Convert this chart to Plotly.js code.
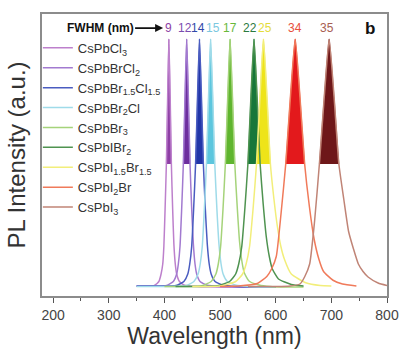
<!DOCTYPE html>
<html>
<head>
<meta charset="utf-8">
<script src="https://cdn.plot.ly/plotly-3.0.1.min.js"></script>
<style>html,body{margin:0;padding:0;background:#fff;}#chart{width:401px;height:355px;}</style>
</head>
<body>
<div id="chart"></div>
<script>
// ---- data ----
const names = ['CsPbCl<sub>3</sub>','CsPbBrCl<sub>2</sub>','CsPbBr<sub>1.5</sub>Cl<sub>1.5</sub>','CsPbBr<sub>2</sub>Cl','CsPbBr<sub>3</sub>','CsPbIBr<sub>2</sub>','CsPbI<sub>1.5</sub>Br<sub>1.5</sub>','CsPbI<sub>2</sub>Br','CsPbI<sub>3</sub>'];
const fwhmLabels = ['9','12','14','15','17','22','25','34','35'];
const peakNm = [408, 440, 463, 483, 518, 561, 578, 635, 696];

const x1 = [350, 370, 382, 390, 394, 397, 399, 401.2, 403.5, 405.8, 408, 410.3, 412.5, 414.8, 417, 419.5, 422, 427, 436, 460, 520, 600];
const y1 = [0.012, 0.012, 0.014, 0.03, 0.06, 0.1, 0.17, 0.32, 0.5, 0.77, 1, 0.77, 0.5, 0.32, 0.18, 0.1, 0.06, 0.03, 0.015, 0.01, 0.008, 0.008];
const x2 = [350, 380, 404, 416, 422, 425, 428, 431, 434, 437, 440, 443, 446, 449, 452, 455, 458, 464, 477, 500, 550, 600];
const y2 = [0.012, 0.012, 0.014, 0.03, 0.06, 0.1, 0.17, 0.32, 0.5, 0.77, 1, 0.77, 0.5, 0.32, 0.18, 0.1, 0.06, 0.03, 0.015, 0.01, 0.008, 0.008];
const x3 = [350, 390, 421, 435, 442, 445.5, 449, 452.5, 456, 459.5, 463, 466.5, 470, 473.5, 477, 480.5, 484, 491, 506, 530, 570, 600];
const y3 = [0.012, 0.012, 0.014, 0.03, 0.06, 0.1, 0.17, 0.32, 0.5, 0.77, 1, 0.77, 0.5, 0.32, 0.18, 0.1, 0.06, 0.03, 0.015, 0.01, 0.008, 0.008];
const x4 = [350, 400, 438, 453, 460.5, 464.3, 468, 471.8, 475.5, 479.3, 483, 486.8, 490.5, 494.3, 498, 501.8, 505.5, 513, 529, 550, 580, 600];
const y4 = [0.01, 0.01, 0.013, 0.03, 0.06, 0.1, 0.17, 0.32, 0.5, 0.77, 1, 0.77, 0.5, 0.32, 0.18, 0.1, 0.06, 0.03, 0.015, 0.01, 0.008, 0.008];
const x5 = [400, 440, 467, 484, 492.5, 496.8, 501, 505.3, 509.5, 513.8, 518, 522.3, 526.5, 530.8, 535, 539.3, 543.5, 552, 570, 590, 620, 650];
const y5 = [0.01, 0.01, 0.013, 0.03, 0.06, 0.1, 0.17, 0.32, 0.5, 0.77, 1, 0.77, 0.5, 0.33, 0.19, 0.11, 0.065, 0.032, 0.016, 0.01, 0.008, 0.008];
const x6 = [420, 460, 495, 517, 528, 533.5, 539, 544.5, 550, 555.5, 561, 566.5, 572, 577.5, 583, 588.5, 594, 605, 628, 650];
const y6 = [0.01, 0.01, 0.013, 0.03, 0.06, 0.1, 0.17, 0.32, 0.5, 0.77, 1, 0.77, 0.5, 0.34, 0.21, 0.13, 0.08, 0.04, 0.018, 0.012];
const x7 = [450, 480, 503, 528, 540.5, 546.8, 553, 559.3, 565.5, 571.8, 578, 584.3, 590.5, 596.8, 603, 609.3, 615.5, 628, 654, 680, 700];
const y7 = [0.01, 0.01, 0.013, 0.03, 0.06, 0.1, 0.17, 0.32, 0.5, 0.77, 1, 0.77, 0.5, 0.36, 0.25, 0.17, 0.12, 0.06, 0.025, 0.014, 0.012];
const x8 = [500, 533, 567, 584, 592.5, 601, 609.5, 618, 626.5, 635, 643.5, 652, 660.5, 669, 677.5, 686, 703, 720, 745];
const y8 = [0.01, 0.012, 0.022, 0.05, 0.08, 0.13, 0.3, 0.5, 0.77, 1, 0.77, 0.5, 0.33, 0.2, 0.12, 0.07, 0.035, 0.02, 0.012];
const x9 = [550, 600, 626, 643.5, 652.3, 661, 669.8, 678.5, 687.3, 696, 704.8, 713.5, 722.3, 731, 739.8, 748.5, 757, 766, 784, 800];
const y9 = [0.01, 0.01, 0.012, 0.02, 0.05, 0.1, 0.27, 0.5, 0.77, 1, 0.77, 0.5, 0.36, 0.23, 0.16, 0.1, 0.07, 0.048, 0.024, 0.014];

const xs = [x1, x2, x3, x4, x5, x6, x7, x8, x9];
const ys = [y1, y2, y3, y4, y5, y6, y7, y8, y9];

// ---- styles ----
const fillColors = ['#8e3fa5','#6d2f9e','#2236a8','#5cc6de','#5fb52e','#17773a','#eee419','#e3191c','#6e1719'];
const lineColors = ['#bd80cc','#a27ad0','#4a5cc0','#9fdbe9','#a5d37a','#4f9350','#f2ee7a','#f07a5a','#c08476'];
const labelColors = ['#8e3fa5','#7a4cb0','#3048a8','#7cc8e0','#68b83a','#2a7a3e','#e4dc3c','#e8503c','#a85e52'];
const labelShiftPx = [0, -2, -1, 2, 0, -4, 2, 0, -2];
const FONT = 'Liberation Sans, Arial, sans-serif';

const traces = [];
// filled region above half maximum
for (let i = 0; i < xs.length; i++) {
  const a = ys[i].indexOf(0.5), b = ys[i].lastIndexOf(0.5);
  traces.push({
    x: xs[i].slice(a, b + 1), y: ys[i].slice(a, b + 1),
    type: 'scatter', mode: 'lines', fill: 'toself', fillcolor: fillColors[i],
    line: {color: fillColors[i], width: 0.5, shape: 'spline', smoothing: 0.5},
    showlegend: false, hoverinfo: 'skip'
  });
}
for (let i = 0; i < xs.length; i++) {
  traces.push({
    x: xs[i], y: ys[i], type: 'scatter', mode: 'lines', name: names[i],
    line: {color: lineColors[i], width: 1.5, shape: 'spline', smoothing: 0.5}
  });
}

const annotations = [];
for (let i = 0; i < fwhmLabels.length; i++) {
  annotations.push({
    x: peakNm[i], xref: 'x', y: 0.95, yref: 'paper', text: fwhmLabels[i],
    xshift: labelShiftPx[i],
    showarrow: false, xanchor: 'center', yanchor: 'middle',
    font: {family: FONT, size: 12, color: labelColors[i]}
  });
}
annotations.push({
  x: 0.351, xref: 'paper', y: 0.95, yref: 'paper', ax: -63, ay: 0,
  text: '<b>FWHM (nm)</b>', showarrow: true, arrowhead: 2, arrowsize: 1,
  arrowwidth: 1.6, arrowcolor: '#111', font: {family: FONT, size: 12, color: '#111'}
});
annotations.push({
  x: 0.951, xref: 'paper', y: 0.95, yref: 'paper', text: '<b>b</b>', showarrow: false,
  xanchor: 'center', yanchor: 'middle', font: {family: FONT, size: 17, color: '#111'}
});

const layout = {
  width: 401, height: 355,
  margin: {l: 42, r: 14, t: 14, b: 59},
  paper_bgcolor: '#fff', plot_bgcolor: '#fff',
  font: {family: FONT, color: '#333'},
  xaxis: {
    range: [180, 800], tickvals: [200, 300, 400, 500, 600, 700, 800],
    ticks: 'outside', ticklen: 5, tickwidth: 1, tickcolor: '#555',
    minor: {tickvals: [250, 350, 450, 550, 650, 750], ticks: 'outside', ticklen: 3, tickcolor: '#555'},
    linecolor: '#8c8c8c', linewidth: 2, mirror: true, showgrid: false, zeroline: false,
    tickfont: {family: FONT, size: 14, color: '#444'},
    title: {text: 'Wavelength (nm)', font: {family: FONT, size: 23, color: '#333'}, standoff: 6}
  },
  yaxis: {
    range: [-0.028, 1.1], showticklabels: false, ticks: '',
    linecolor: '#8c8c8c', linewidth: 2, mirror: true, showgrid: false, zeroline: false,
    title: {text: 'PL Intensity (a.u.)', font: {family: FONT, size: 24, color: '#333'}, standoff: 8}
  },
  legend: {
    x: -0.012, xanchor: 'left', y: 0.933, yanchor: 'top',
    bgcolor: 'rgba(0,0,0,0)', font: {family: FONT, size: 13, color: '#333'},
    tracegroupgap: 0
  },
  annotations: annotations,
  showlegend: true
};

Plotly.newPlot('chart', traces, layout, {displayModeBar: false, staticPlot: true});
</script>
</body>
</html>
